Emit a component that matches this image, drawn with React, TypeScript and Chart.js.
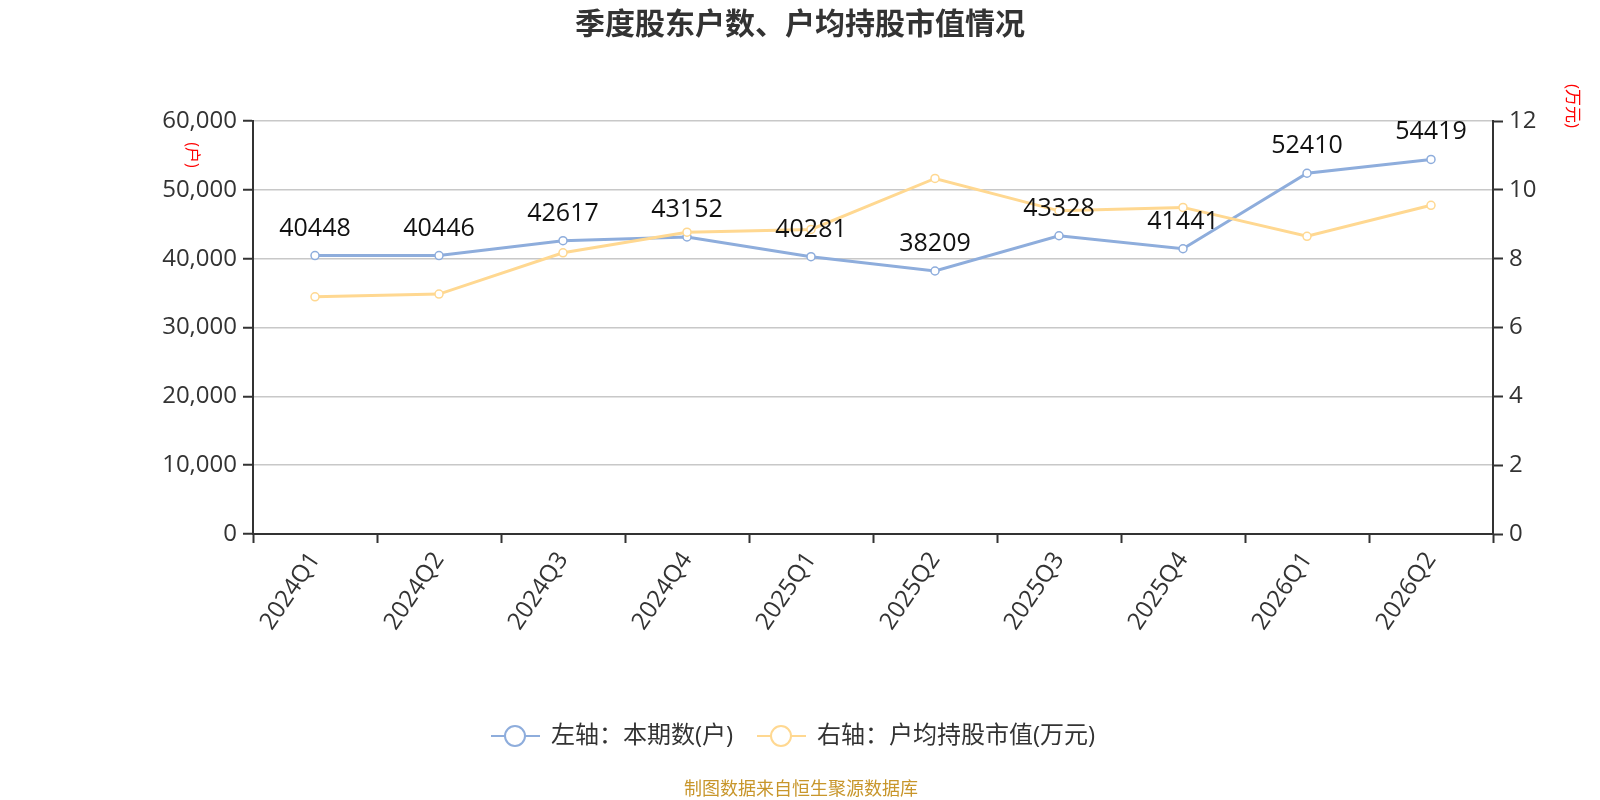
import { useEffect, useRef } from 'react';
import { Chart, registerables } from 'chart.js';

Chart.register(...registerables);

const quarters = ['2024Q1', '2024Q2', '2024Q3', '2024Q4', '2025Q1', '2025Q2', '2025Q3', '2025Q4', '2026Q1', '2026Q2'];
const holders = [40448, 40446, 42617, 43152, 40281, 38209, 43328, 41441, 52410, 54419];
const avgValue = [6.89, 6.97, 8.17, 8.77, 8.85, 10.33, 9.39, 9.49, 8.65, 9.55];

const legendNames = ['左轴：本期数(户)', '右轴：户均持股市值(万元)'];
const blue = '#8eaddc';
const yellow = '#ffd891';
const fontFamily = "'Open Sans', 'Noto Sans CJK SC', sans-serif";

const extras = {
	id: 'extras',
	afterDatasetsDraw(chart: Chart) {
		const ctx = chart.ctx;
		ctx.save();

		// value labels above the blue points
		const meta = chart.getDatasetMeta(0);
		ctx.font = `25px ${fontFamily}`;
		ctx.fillStyle = '#111';
		ctx.textAlign = 'center';
		ctx.textBaseline = 'alphabetic';
		meta.data.forEach((pt, i) => {
			ctx.fillText(String(holders[i]), pt.x, pt.y - 20);
		});

		// axis units, rotated
		ctx.fillStyle = '#ff0000';
		ctx.textAlign = 'center';
		ctx.textBaseline = 'middle';
		const units: [string, number, number, number][] = [
			['(户)', 192, 155, 16],
			['(万元)', 1572, 106, 17],
		];
		units.forEach(([t, x, y, size]) => {
			ctx.save();
			ctx.font = `${size}px ${fontFamily}`;
			ctx.translate(x, y);
			ctx.rotate(Math.PI / 2);
			ctx.fillText(t, 0, 0);
			ctx.restore();
		});

		// legend
		const colors = [blue, yellow];
		const starts = [491, 757];
		const ly = 736;
		ctx.font = `24px ${fontFamily}`;
		ctx.textAlign = 'left';
		legendNames.forEach((name, i) => {
			const x0 = starts[i];
			ctx.strokeStyle = colors[i];
			ctx.lineWidth = 2;
			ctx.beginPath();
			ctx.moveTo(x0, ly);
			ctx.lineTo(x0 + 49, ly);
			ctx.stroke();
			ctx.beginPath();
			ctx.arc(x0 + 24, ly, 10, 0, Math.PI * 2);
			ctx.fillStyle = '#fff';
			ctx.fill();
			ctx.stroke();
			ctx.fillStyle = '#333';
			ctx.fillText(name, x0 + 60, ly);
		});

		// source note
		ctx.font = `18px ${fontFamily}`;
		ctx.fillStyle = '#c8962b';
		ctx.textAlign = 'center';
		ctx.fillText('制图数据来自恒生聚源数据库', 801, 790);

		ctx.restore();
	},
};

export default function App() {
	const canvasRef = useRef<HTMLCanvasElement | null>(null);
	const chartInstance = useRef<Chart | null>(null);

	useEffect(() => {
		const ctx = canvasRef.current?.getContext('2d');
		if (chartInstance.current) {
			chartInstance.current.destroy();
		}
		if (ctx) {
			chartInstance.current = new Chart(ctx, {
				type: 'line',
				data: {
					labels: quarters,
					datasets: [
						{
							label: legendNames[0],
							data: holders,
							yAxisID: 'y',
							borderColor: blue,
							borderWidth: 3,
							pointRadius: 4,
							pointBorderWidth: 1.5,
							pointBackgroundColor: '#fff',
							pointBorderColor: blue,
							tension: 0,
							order: 1,
						},
						{
							label: legendNames[1],
							data: avgValue,
							yAxisID: 'y1',
							borderColor: yellow,
							borderWidth: 3,
							pointRadius: 4,
							pointBorderWidth: 1.5,
							pointBackgroundColor: '#fff',
							pointBorderColor: yellow,
							tension: 0,
							order: 0,
						},
					],
				},
				options: {
					responsive: true,
					maintainAspectRatio: false,
					animation: false,
					layout: { padding: 0 },
					plugins: {
						legend: { display: false },
						tooltip: { enabled: false },
						title: {
							display: true,
							text: '季度股东户数、户均持股市值情况',
							color: '#333',
							font: { size: 30, weight: 'bold', family: fontFamily },
							padding: { top: 7, bottom: 78 },
						},
					},
					scales: {
						x: {
							offset: true,
							grid: { offset: true, drawOnChartArea: false, tickLength: 9, tickColor: '#333', tickWidth: 2 },
							border: { color: '#333', width: 2 },
							ticks: {
								color: '#333',
								font: { size: 24, family: fontFamily },
								minRotation: 56,
								maxRotation: 56,
								padding: 4,
							},
							afterFit(scale) {
								scale.height = 266;
							},
						},
						y: {
							position: 'left',
							min: 0,
							max: 60000,
							grid: { color: '#c8c8c8', lineWidth: 1.5, tickLength: 10, tickColor: '#333', tickWidth: 2 },
							border: { color: '#333', width: 2 },
							ticks: {
								stepSize: 10000,
								color: '#333',
								padding: 6,
								font: { size: 24, family: fontFamily },
								callback: (v) => Number(v).toLocaleString('en-US'),
							},
							afterFit(scale) {
								scale.width = 253;
							},
						},
						y1: {
							position: 'right',
							min: 0,
							max: 12,
							grid: { drawOnChartArea: false, tickLength: 10, tickColor: '#333', tickWidth: 2 },
							border: { color: '#333', width: 2 },
							ticks: {
								stepSize: 2,
								color: '#333',
								padding: 6,
								font: { size: 24, family: fontFamily },
							},
							afterFit(scale) {
								scale.width = 107;
							},
						},
					},
				},
				plugins: [extras],
			});
		}
		return () => {
			if (chartInstance.current) {
				chartInstance.current.destroy();
				chartInstance.current = null;
			}
		};
	}, []);

	return (
		<div style={{ position: 'fixed', left: 0, top: 0, width: 1600, height: 800, background: '#fff' }}>
			<canvas ref={canvasRef}></canvas>
		</div>
	);
}
